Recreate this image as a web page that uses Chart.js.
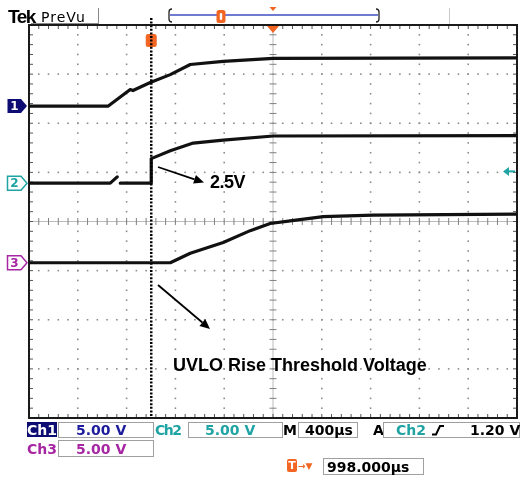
<!DOCTYPE html>
<html>
<head>
<meta charset="utf-8">
<script src="https://cdn.jsdelivr.net/npm/chart.js"></script>
<style>
  html, body { margin: 0; padding: 0; background: #fff; }
  #wrap { position: relative; width: 520px; height: 481px; overflow: hidden; }
  #scope { position: absolute; left: 0; top: 0; }
  .t { position: absolute; white-space: nowrap; line-height: 1; }
  .ro { font-family: "DejaVu Sans", sans-serif; font-weight: bold; font-size: 14px; }
  .note { font-family: "Liberation Sans", Arial, sans-serif; font-weight: bold; font-size: 18px; color: #000; }
  .box { position: absolute; border: 1px solid #a0a0a0; box-sizing: border-box; }
  .mk { position: absolute; width: 13px; text-align: center; line-height: 14px;
        font-family: "DejaVu Sans", sans-serif; font-weight: bold; font-size: 12px; }
</style>
</head>
<body>
<div id="wrap">
  <canvas id="scope" width="520" height="481"></canvas>

  <!-- header -->
  <div class="t" style="left:8px;top:5.5px;font:bold 19px 'Liberation Sans',Arial,sans-serif;letter-spacing:-1.5px">Tek</div>
  <div class="t" style="left:41px;top:8.5px;font:14px 'DejaVu Sans',sans-serif;letter-spacing:1px">PreVu</div>

  <!-- channel ground markers -->
  <div class="mk" id="m1" style="left:8px;color:#fff">1</div>
  <div class="mk" id="m2" style="left:8px;color:#1fa3a3">2</div>
  <div class="mk" id="m3" style="left:8px;color:#a626a4">3</div>

  <!-- annotations -->
  <div class="t note" style="left:210px;top:172.6px;letter-spacing:-0.5px">2.5V</div>
  <div class="t note" style="left:173px;top:356px">UVLO Rise Threshold Voltage</div>

  <!-- readout panel -->
  <div class="t ro" style="left:27px;top:422px;width:30px;height:15px;background:#0c0c72;color:#fff;text-align:center;line-height:16px">Ch1</div>
  <div class="box" style="left:58px;top:422px;width:96px;height:16px"></div>
  <div class="t ro" style="left:76px;top:423.4px;color:#1c1c9c">5.00 V</div>
  <div class="t ro" style="left:155px;top:423.4px;color:#1fa3a3;letter-spacing:-1.5px">Ch2</div>
  <div class="box" style="left:188px;top:422px;width:95px;height:16px"></div>
  <div class="t ro" style="left:205px;top:423.4px;color:#1fa3a3">5.00 V</div>
  <div class="t ro" style="left:283px;top:423.4px;color:#000">M</div>
  <div class="box" style="left:298px;top:422px;width:60px;height:16px"></div>
  <div class="t ro" style="left:305px;top:423.4px;color:#000">400µs</div>
  <div class="t ro" style="left:373px;top:423.4px;color:#000">A</div>
  <div class="box" style="left:383px;top:422px;width:137px;height:16px"></div>
  <div class="t ro" style="left:396px;top:423.4px;color:#1fa3a3">Ch2</div>
  <div class="t ro" style="left:470px;top:423.4px;color:#000">1.20 V</div>

  <div class="t ro" style="left:27px;top:441.5px;color:#a626a4">Ch3</div>
  <div class="box" style="left:58px;top:440px;width:96px;height:17px"></div>
  <div class="t ro" style="left:76px;top:441.5px;color:#a626a4">5.00 V</div>

  <div class="t" style="left:287px;top:459px;width:10px;height:13px;background:#f26522;border-radius:2px;color:#fff;font:bold 11px 'DejaVu Sans',sans-serif;line-height:13px;text-align:center">T</div>
  <div class="t" style="left:298px;top:461px;color:#f26522;font:bold 9px 'DejaVu Sans',sans-serif">→▼</div>
  <div class="box" style="left:323px;top:458px;width:101px;height:17px"></div>
  <div class="t ro" style="left:327px;top:459.5px;color:#000">998.000µs</div>
</div>

<script>
// timebase and vertical settings
const usPerDiv = 400;
const triggerDelay = 998;   // µs from trigger point to screen centre
const voltsPerDiv = 5;
const trigLevel = 1.2;      // Ch2 trigger level, V

// ground positions in divisions above screen centre
const ch1Pos = 2.35;
const ch2Pos = 0.78;
const ch3Pos = -0.84;

// Ch1 waveform (µs, V)
const ch1Time  = [-1002, -352, -172, -150, -8, 156, 320, 590, 1000, 2998];
const ch1Volts = [0, 0, 1.68, 1.58, 2.4, 3.2, 4.23, 4.54, 4.85, 4.9];

// Ch2 waveform (null = dropout in the record)
const ch2Time  = [-1002, -336, -279, -266, -254, 0, 0, 156, 344, 590, 1000, 2998];
const ch2Volts = [0, 0, 0.64, null, 0, 0, 2.5, 3.3, 4.08, 4.39, 4.8, 4.85];

// Ch3 waveform
const ch3Time  = [-1002, 156, 320, 590, 811, 975, 1139, 1410, 1820, 2998];
const ch3Volts = [0, 0, 0.97, 2.07, 3.27, 4.0, 4.26, 4.69, 4.85, 4.95];

const xMin = triggerDelay - 5 * usPerDiv;
const xMax = triggerDelay + 5 * usPerDiv;

const ORANGE = '#f26522';
const TEAL = '#1fa3a3';
const NAVY = '#0c0c72';
const PURPLE = '#a626a4';

function toTrace(times, volts, pos) {
  return times.map((t, i) => ({ x: t, y: volts[i] === null ? null : pos + volts[i] / voltsPerDiv }));
}

function arrow(ctx, x1, y1, x2, y2) {
  const ang = Math.atan2(y2 - y1, x2 - x1), L = 10, W = 4.5;
  const bx = x2 - L * Math.cos(ang), by = y2 - L * Math.sin(ang);
  ctx.beginPath(); ctx.moveTo(x1, y1); ctx.lineTo(bx, by); ctx.stroke();
  ctx.beginPath();
  ctx.moveTo(x2, y2);
  ctx.lineTo(bx + W * Math.sin(ang), by - W * Math.cos(ang));
  ctx.lineTo(bx - W * Math.sin(ang), by + W * Math.cos(ang));
  ctx.closePath(); ctx.fill();
}

function chMarker(ctx, yp, color, filled) {
  ctx.beginPath();
  ctx.moveTo(7.5, yp - 7); ctx.lineTo(21, yp - 7); ctx.lineTo(27, yp);
  ctx.lineTo(21, yp + 7); ctx.lineTo(7.5, yp + 7); ctx.closePath();
  if (filled) { ctx.fillStyle = color; ctx.fill(); }
  else { ctx.fillStyle = '#fff'; ctx.fill(); ctx.strokeStyle = color; ctx.lineWidth = 1.5; ctx.stroke(); }
}

// graticule: dotted divisions, centre crosshair, frame with minor ticks
const graticule = {
  id: 'graticule',
  beforeDatasetsDraw(chart) {
    const { ctx, chartArea: a, scales: { x, y } } = chart;
    const px = k => x.getPixelForValue(xMin + k * usPerDiv);
    const py = k => y.getPixelForValue(4 - k);
    ctx.save();
    ctx.fillStyle = '#8c8c8c';
    for (let i = 1; i < 8; i++) {
      if (i === 4) continue;
      const gy = py(i);
      for (let j = 1; j < 50; j++) ctx.fillRect(px(j / 5) - 0.8, gy - 0.8, 1.6, 1.6);
    }
    for (let i = 1; i < 10; i++) {
      if (i === 5) continue;
      const gx = px(i);
      for (let j = 1; j < 40; j++) ctx.fillRect(gx - 0.8, py(j / 5) - 0.8, 1.6, 1.6);
    }
    const cx = px(5), cy = py(4);
    ctx.strokeStyle = '#bcbcbc'; ctx.lineWidth = 1;
    ctx.beginPath();
    ctx.moveTo(a.left, cy); ctx.lineTo(a.right, cy);
    ctx.moveTo(cx, a.top); ctx.lineTo(cx, a.bottom);
    ctx.stroke();
    ctx.strokeStyle = '#808080';
    ctx.beginPath();
    for (let j = 1; j < 50; j++) { const tx = px(j / 5); ctx.moveTo(tx, cy - 3.5); ctx.lineTo(tx, cy + 3.5); }
    for (let j = 1; j < 40; j++) { const ty = py(j / 5); ctx.moveTo(cx - 3.5, ty); ctx.lineTo(cx + 3.5, ty); }
    ctx.stroke();
    // frame ticks
    ctx.strokeStyle = '#555';
    ctx.beginPath();
    for (let j = 1; j < 50; j++) {
      const tx = px(j / 5);
      ctx.moveTo(tx, a.top); ctx.lineTo(tx, a.top + 4);
      ctx.moveTo(tx, a.bottom); ctx.lineTo(tx, a.bottom - 4);
    }
    for (let j = 1; j < 40; j++) {
      const ty = py(j / 5);
      ctx.moveTo(a.left, ty); ctx.lineTo(a.left + 4, ty);
      ctx.moveTo(a.right, ty); ctx.lineTo(a.right - 4, ty);
    }
    ctx.stroke();
    ctx.strokeStyle = '#1a1a1a'; ctx.lineWidth = 2;
    ctx.strokeRect(a.left, a.top, a.right - a.left, a.bottom - a.top);
    ctx.restore();
  },
  afterDraw(chart) {
    const { ctx, chartArea: a, scales: { x, y } } = chart;
    const trigX = x.getPixelForValue(0);
    const centreX = x.getPixelForValue(triggerDelay);
    ctx.save();

    // header separators and record ruler
    ctx.strokeStyle = '#888'; ctx.lineWidth = 1;
    ctx.beginPath();
    ctx.moveTo(98.5, 8); ctx.lineTo(98.5, 24);
    ctx.moveTo(98, 23.5); ctx.lineTo(a.left + 2, 23.5);
    ctx.stroke();
    ctx.strokeStyle = '#c8c8c8';
    ctx.beginPath(); ctx.moveTo(449.5, 8); ctx.lineTo(449.5, 24); ctx.stroke();
    ctx.strokeStyle = '#3f4fc0'; ctx.lineWidth = 1.5;
    ctx.beginPath(); ctx.moveTo(170, 15); ctx.lineTo(378, 15); ctx.stroke();
    ctx.strokeStyle = '#222'; ctx.lineWidth = 1.3;
    ctx.beginPath();
    ctx.moveTo(172, 9); ctx.quadraticCurveTo(169, 9, 169, 12); ctx.lineTo(169, 19); ctx.quadraticCurveTo(169, 22, 172, 22);
    ctx.moveTo(376, 9); ctx.quadraticCurveTo(379, 9, 379, 12); ctx.lineTo(379, 19); ctx.quadraticCurveTo(379, 22, 376, 22);
    ctx.stroke();
    ctx.fillStyle = ORANGE;
    ctx.beginPath(); ctx.roundRect(216.5, 10, 9, 13, 2.5); ctx.fill();
    ctx.fillStyle = '#fff';
    ctx.beginPath(); ctx.roundRect(219.8, 13, 2.4, 7, 1.2); ctx.fill();
    ctx.fillStyle = ORANGE;
    ctx.beginPath(); ctx.moveTo(centreX - 3.5, 7); ctx.lineTo(centreX + 3.5, 7); ctx.lineTo(centreX, 11); ctx.fill();
    ctx.beginPath(); ctx.moveTo(centreX - 6, a.top + 1); ctx.lineTo(centreX + 6, a.top + 1); ctx.lineTo(centreX, a.top + 8); ctx.fill();

    // trigger point marker and cursor
    ctx.beginPath(); ctx.roundRect(trigX - 5.5, 34, 11, 13, 2.5); ctx.fill();
    ctx.strokeStyle = '#000'; ctx.lineWidth = 2.5; ctx.setLineDash([2, 1.6]);
    ctx.beginPath(); ctx.moveTo(trigX, 18); ctx.lineTo(trigX, a.bottom); ctx.stroke();
    ctx.setLineDash([]);

    // channel ground markers
    chMarker(ctx, y.getPixelForValue(ch1Pos), NAVY, true);
    chMarker(ctx, y.getPixelForValue(ch2Pos), TEAL, false);
    chMarker(ctx, y.getPixelForValue(ch3Pos), PURPLE, false);

    // trigger level arrow on the right edge
    const ty = y.getPixelForValue(ch2Pos + trigLevel / voltsPerDiv);
    ctx.strokeStyle = TEAL; ctx.fillStyle = TEAL; ctx.lineWidth = 2;
    ctx.beginPath(); ctx.moveTo(508, ty); ctx.lineTo(515, ty); ctx.stroke();
    ctx.beginPath(); ctx.moveTo(503, ty); ctx.lineTo(509, ty - 4.5); ctx.lineTo(509, ty + 4.5); ctx.fill();

    // annotation arrows
    ctx.strokeStyle = '#000'; ctx.fillStyle = '#000'; ctx.lineWidth = 1.8;
    arrow(ctx, 158, 167, 204, 182.5);
    arrow(ctx, 158, 285, 210, 329);

    // rising slope symbol in the trigger readout
    ctx.lineWidth = 2; ctx.strokeStyle = '#000';
    ctx.beginPath();
    ctx.moveTo(432, 434.5); ctx.lineTo(436, 434.5); ctx.lineTo(440, 426); ctx.lineTo(444, 426);
    ctx.stroke();
    ctx.restore();
  }
};

const traceStyle = { borderColor: '#111', borderWidth: 3.2, pointRadius: 0, tension: 0,
                     borderJoinStyle: 'round', borderCapStyle: 'round', spanGaps: false };

const chart = new Chart(document.getElementById('scope'), {
  type: 'line',
  data: {
    datasets: [
      { label: 'Ch1', data: toTrace(ch1Time, ch1Volts, ch1Pos), ...traceStyle },
      { label: 'Ch2', data: toTrace(ch2Time, ch2Volts, ch2Pos), ...traceStyle },
      { label: 'Ch3', data: toTrace(ch3Time, ch3Volts, ch3Pos), ...traceStyle }
    ]
  },
  options: {
    responsive: false,
    animation: false,
    layout: { padding: { left: 29, top: 25, right: 3, bottom: 63 } },
    plugins: { legend: { display: false }, tooltip: { enabled: false } },
    scales: {
      x: { type: 'linear', min: xMin, max: xMax, display: false },
      y: { min: -4, max: 4, display: false }
    }
  },
  plugins: [graticule]
});

// place the channel numbers on their ground markers
[['m1', ch1Pos], ['m2', ch2Pos], ['m3', ch3Pos]].forEach(([id, pos]) => {
  document.getElementById(id).style.top = (chart.scales.y.getPixelForValue(pos) - 7) + 'px';
});
</script>
</body>
</html>
